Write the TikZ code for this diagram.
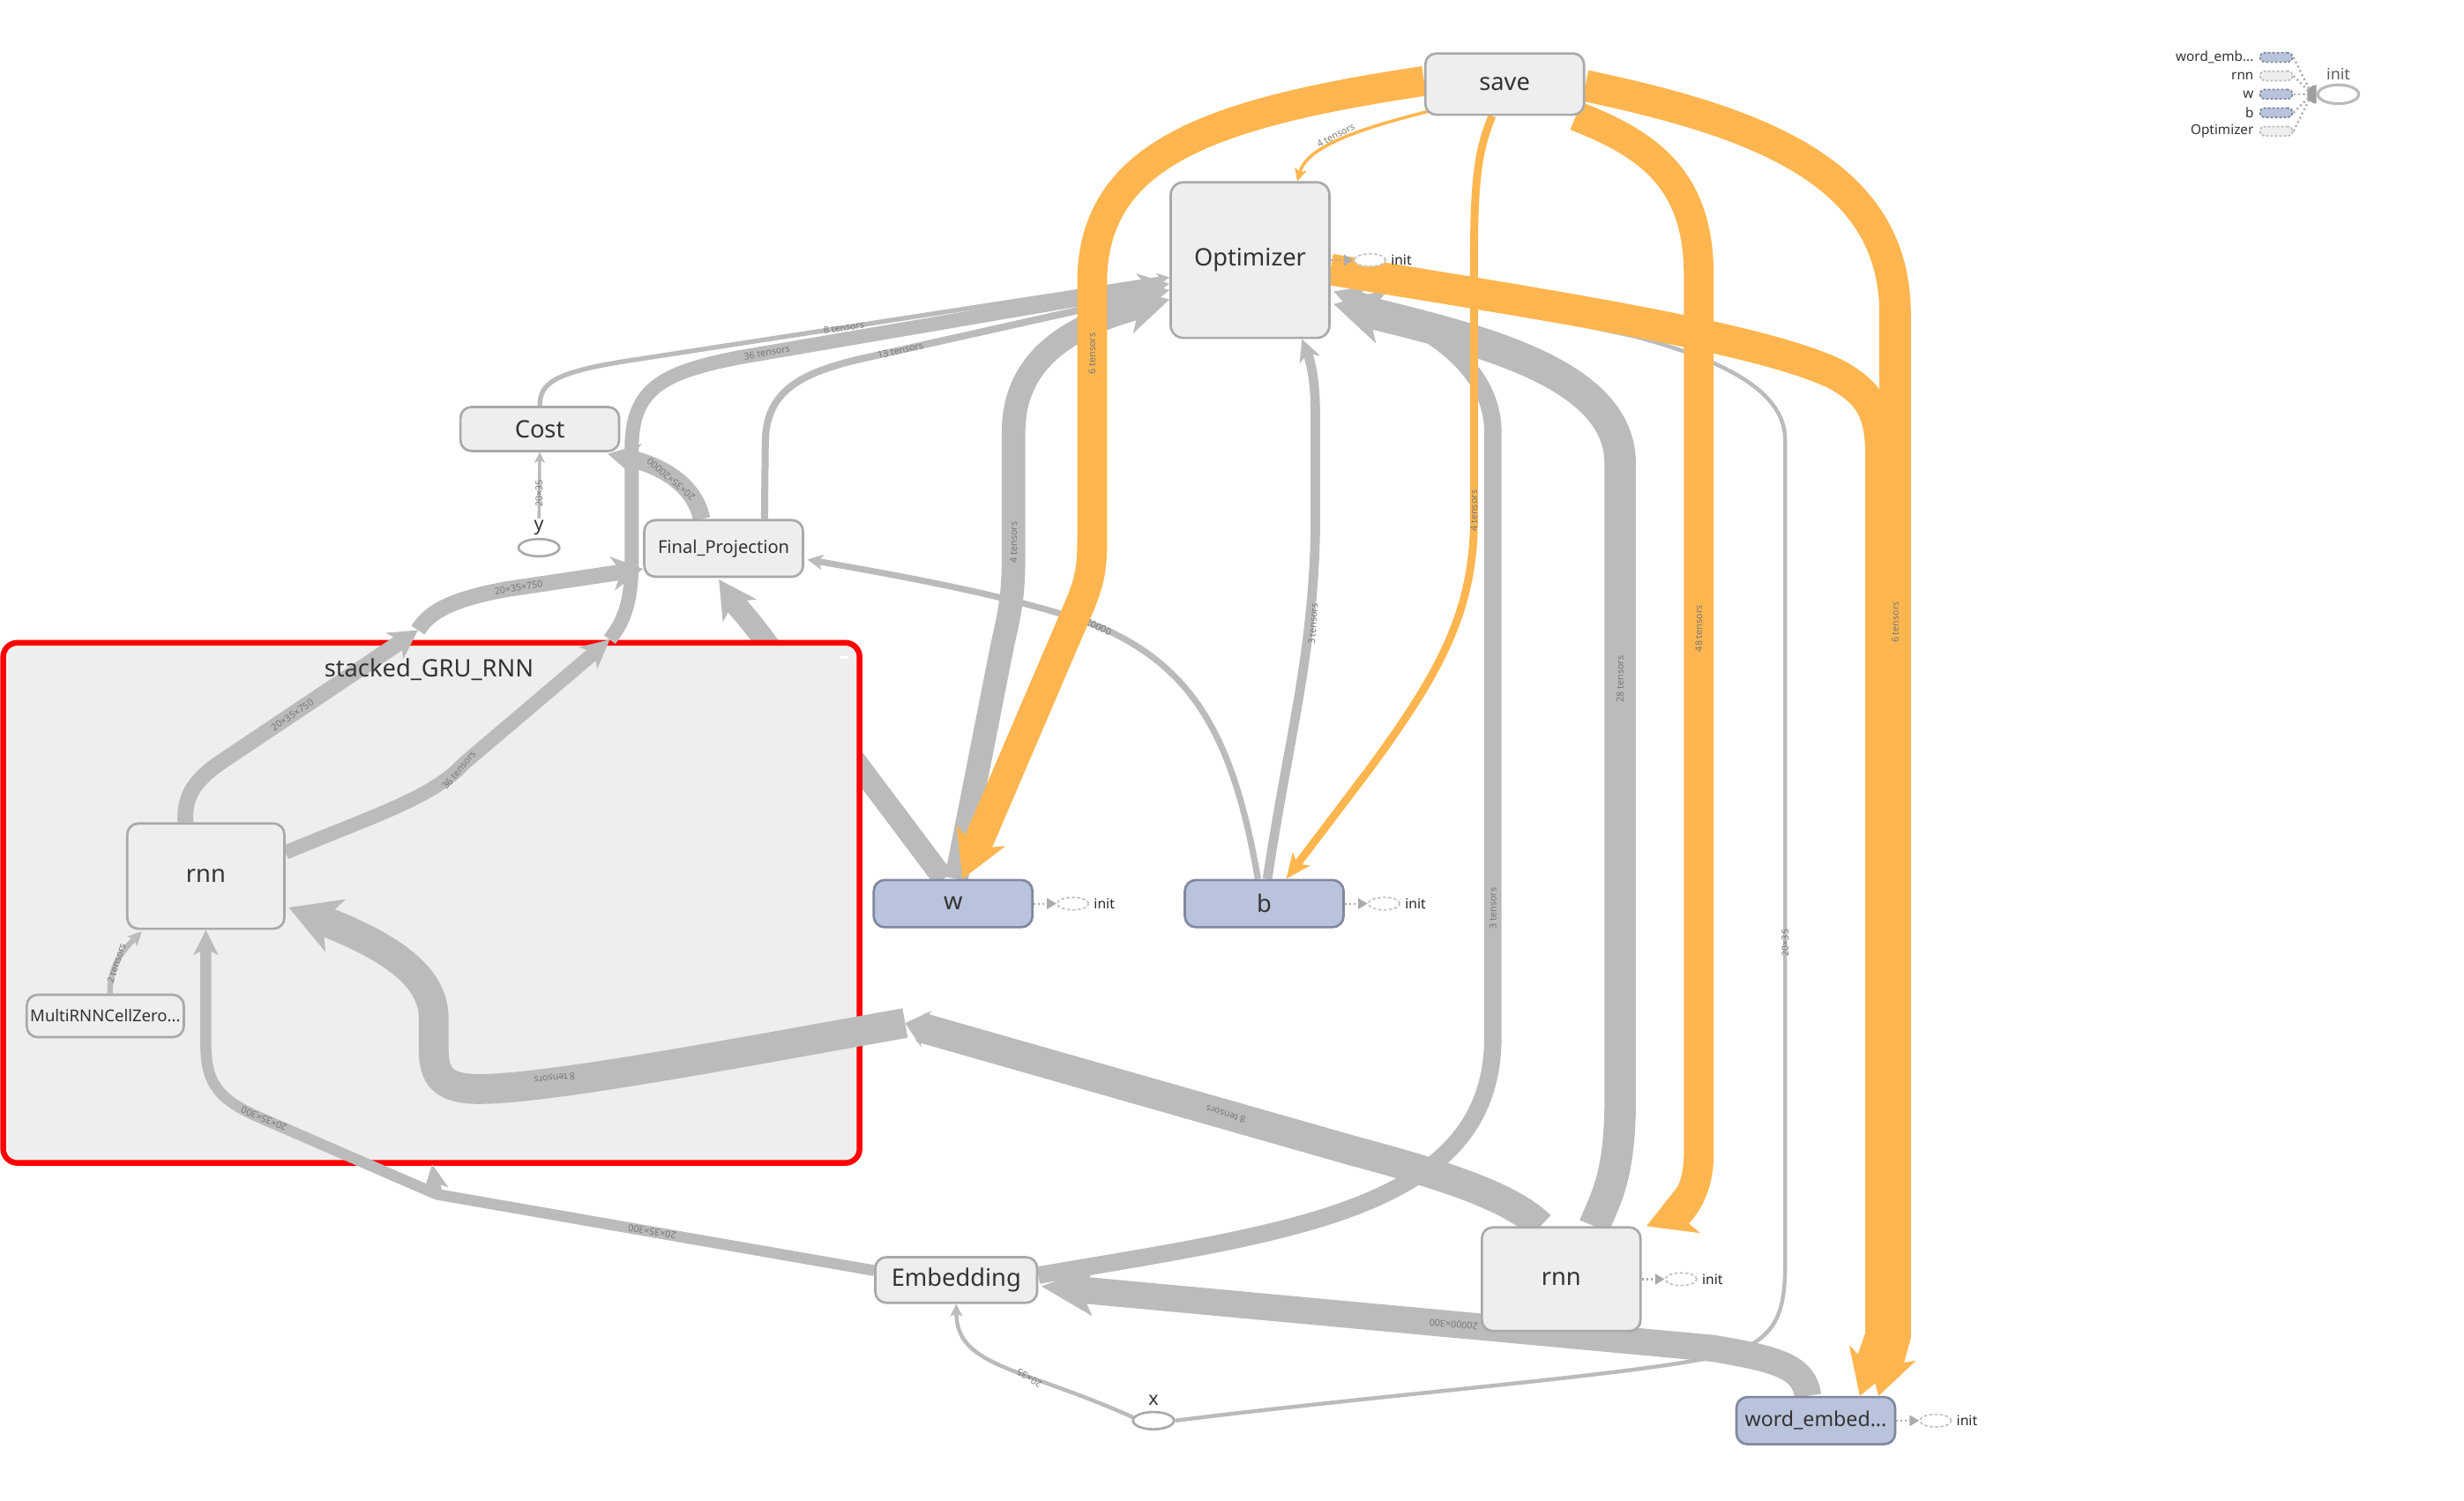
\documentclass[tikz,border=0pt]{standalone}
\usepackage{fontspec}
\setmainfont{Noto Sans}
\usetikzlibrary{arrows.meta,shapes.geometric,calc}
\definecolor{nfill}{HTML}{EEEEEE}
\definecolor{nbord}{HTML}{A9A9A9}
\definecolor{bfill}{HTML}{B9C4DC}
\definecolor{bbord}{HTML}{7F889E}
\definecolor{ntext}{HTML}{333333}
\definecolor{ecol}{HTML}{BBBBBB}
\definecolor{ocol}{HTML}{FDB64F}
\definecolor{ltext}{HTML}{777777}
\definecolor{ired}{HTML}{FF0000}
\definecolor{iellc}{HTML}{C4C4C4}
\definecolor{idotc}{HTML}{ABABAB}
\definecolor{legdc}{HTML}{B0B0B0}
\definecolor{legdisc}{HTML}{9E9E9E}
\definecolor{legc}{HTML}{BBBBBB}
\pgfdeclarelayer{back}
\pgfdeclarelayer{clus}
\pgfdeclarelayer{gedges}
\pgfdeclarelayer{oedges}
\pgfsetlayers{back,clus,gedges,oedges,main}
\newcommand{\initmark}[1]{%
  \node[iell] (#1ie) at ($(#1.east)+(25,0)$) {};
  \node[ilab] (#1il) at ($(#1ie.east)+(2.5,0)$) {init};
  \draw[idot] (#1.east) -- (#1ie.west);
}
\begin{document}
\begin{tikzpicture}[x=0.5pt,y=-0.5pt,
  gnode/.style={draw=nbord, fill=nfill, line width=0.75pt, rounded corners=3.5pt, text=ntext, inner sep=0pt, font=\fontsize{7.65}{9}\selectfont},
  bnode/.style={gnode, draw=bbord, fill=bfill},
  elab/.style={font=\fontsize{3}{3.5}\selectfont, text=ltext, inner sep=0.2pt},
  arw/.style n args={3}{-{Stealth[length=#1,width=#2,inset=#3,line width=0pt]}},
  gE/.style={draw=ecol},
  oE/.style={draw=ocol},
  iell/.style={ellipse, draw=iellc, fill=white, line width=0.5pt, dash pattern=on 1pt off 0.7pt, minimum width=10pt, minimum height=4pt, inner sep=0pt},
  ilab/.style={font=\fontsize{4.4}{5}\selectfont, text=black!85, inner sep=0pt, anchor=west},
  idot/.style={draw=idotc, line width=0.6pt, dash pattern=on 0.6pt off 0.8pt, -{Triangle[length=3pt,width=3.4pt]}},
  legbox/.style={rounded corners=1.5pt, line width=0.5pt, dash pattern=on 0.8pt off 0.6pt, minimum width=10.5pt, minimum height=3pt, inner sep=0pt},
  leglab/.style={font=\fontsize{4.3}{5}\selectfont, text=ntext, inner sep=0pt, anchor=east},
  legdot/.style={draw=legdc, line width=0.7pt, dash pattern=on 0.6pt off 0.9pt},
  smallel/.style={ellipse, draw=nbord, fill=white, line width=0.75pt, minimum width=13pt, minimum height=5.5pt, inner sep=0pt},
  smalllab/.style={font=\fontsize{6}{7}\selectfont, text=ntext, inner sep=0.5pt}
]
\useasboundingbox (0,0) rectangle (1568,955);

% ---------------- nodes ----------------
\node[gnode, minimum width=50.5pt, minimum height=19.5pt] (save) at (957.5,53.5) {save};
\node[gnode, minimum width=50.5pt, minimum height=49.5pt, rounded corners=4pt] (opt) at (795.5,165.5) {Optimizer};
\node[gnode, minimum width=50.5pt, minimum height=14pt] (cost) at (343.5,273) {Cost};
\node[gnode, minimum width=50.5pt, minimum height=18pt, font=\fontsize{5.65}{7}\selectfont] (fp) at (460.5,349) {Final\_Projection};
\node[gnode, minimum width=50pt, minimum height=33.5pt] (rnn1) at (131,557.5) {rnn};
\node[gnode, minimum width=50pt, minimum height=13.5pt, font=\fontsize{5.2}{6}\selectfont] (mrnn) at (67,646.5) {MultiRNNCellZero...};
\node[bnode, minimum width=50.5pt, minimum height=15pt] (w) at (606.5,575) {w};
\node[bnode, minimum width=50.5pt, minimum height=15pt] (b) at (804.5,575) {b};
\node[gnode, minimum width=51.5pt, minimum height=14.5pt] (emb) at (608.5,814.5) {Embedding};
\node[gnode, minimum width=50.5pt, minimum height=33pt] (rnn2) at (993.5,814) {rnn};
\node[bnode, minimum width=50.5pt, minimum height=15pt, font=\fontsize{6.5}{8}\selectfont] (we) at (1155.5,904) {word\_embed...};
\node[smallel] (yell) at (343,348.5) {};
\node[smalllab] (ylab) at (343,336) {y};
\node[smallel] (xell) at (734,904) {};
\node[smalllab] (xlab) at (734,891) {x};
\node[font=\fontsize{7.65}{9}\selectfont, text=ntext, inner sep=0pt] (grplab) at (273,426) {stacked\_GRU\_RNN};

\initmark{w}
\initmark{b}
\initmark{opt}
\initmark{rnn2}
\initmark{we}

% ---------------- legend ----------------
\node[legbox, fill=bfill, draw=bbord] (lb1) at (1448.5,36.5) {};
\node[legbox, fill=nfill, draw=legc] (lb2) at (1448.5,48.3) {};
\node[legbox, fill=bfill, draw=bbord] (lb3) at (1448.5,60) {};
\node[legbox, fill=bfill, draw=bbord] (lb4) at (1448.5,71.7) {};
\node[legbox, fill=nfill, draw=legc] (lb5) at (1448.5,83.5) {};
\node[leglab] (lt1) at ($(lb1.west)+(-3,0)$) {word\_emb...};
\node[leglab] (lt2) at ($(lb2.west)+(-3,0)$) {rnn};
\node[leglab] (lt3) at ($(lb3.west)+(-3,0)$) {w};
\node[leglab] (lt4) at ($(lb4.west)+(-3,0)$) {b};
\node[leglab] (lt5) at ($(lb5.west)+(-3,0)$) {Optimizer};
\node[ellipse, draw=legc, line width=0.9pt, minimum width=13pt, minimum height=6pt, inner sep=0pt] (linit) at (1488,60) {};
\node[font=\fontsize{5}{6}\selectfont, text=ntext!80, inner sep=0pt] (linitl) at (1488,47) {init};
\coordinate (lgc) at ($(linit.west)+(-3,0)$);
\foreach \i in {1,...,5} \draw[legdot] (lb\i.east) -- (lgc);
\fill[legdisc] ($(linit.west)+(0,-6)$) arc[start angle=90,end angle=270,radius=3pt] -- cycle;

% ---------------- back layer ----------------
\begin{pgfonlayer}{back}
\fill[white] (0,0) rectangle (1568,955);
\draw[gE, line width=7pt, arw={12pt}{13pt}{3.5pt}] ($(w.north)+(-6,0)$) -- (490,412) .. controls (477,394) and (469,386) .. ($(fp.south)+(-3,1)$);
\end{pgfonlayer}

% ---------------- cluster ----------------
\begin{pgfonlayer}{clus}
\node[draw=ired, fill=nfill, line width=1.8pt, rounded corners=4.5pt, minimum width=272.5pt, minimum height=165.5pt, inner sep=0pt] (grp) at (274.5,574.5) {};
\node[fill=white, minimum width=3pt, minimum height=0.7pt, inner sep=0pt] (grpbtn) at (537,418.5) {};
\end{pgfonlayer}

% ---------------- gray edges ----------------
\begin{pgfonlayer}{gedges}
\coordinate (bA) at (266,401);
\coordinate (bB) at (576,651);
\coordinate (bC) at (278,760);
\coordinate (bCt) at (275,741);
\coordinate (bD) at (388,407);

% Cost -> Optimizer
\draw[gE, line width=1.5pt, arw={4pt}{4pt}{1pt}] (cost.north) .. controls (343.5,244) and (352,237) .. (400,229.5) -- ($(opt.west)+(0,11)$);
\node[elab, rotate=9] (e1) at (537,208.5) {8 tensors};

% rnn -> Optimizer (36 tensors)
\draw[gE, line width=4.5pt, arw={9pt}{9pt}{2.5pt}] ($(rnn1.east)+(0,-15)$) .. controls (235,520) and (275,508) .. (295,486) -- (bD);
\draw[gE, line width=4.5pt, arw={10pt}{10pt}{3pt}] (bD) .. controls (398,394) and (402,382) .. (402,355) -- (402,285) .. controls (402,247) and (422,237) .. (470,227.5) -- ($(opt.west)+(0,15)$);
\node[elab, rotate=50] (e2) at (292,490) {36 tensors};
\node[elab, rotate=10] (e3) at (488,224.4) {36 tensors};

% Final_Projection -> Optimizer
\draw[gE, line width=2.25pt, arw={6pt}{6pt}{1.5pt}] ($(fp.north)+(26,0)$) -- (487,282) .. controls (487,250) and (508,238) .. (545,229) -- ($(opt.west)+(0,19)$);
\node[elab, rotate=12.5] (e4) at (573,222.8) {13 tensors};

% Final_Projection -> Cost
\draw[gE, line width=5.5pt, arw={10pt}{11pt}{3pt}] ($(fp.north)+(-14,0)$) .. controls (442,308) and (420,296) .. ($(cost.south east)+(-8,1)$);
\node[elab, rotate=140] (e5) at (427,305) {20×35×20000};

% y -> Cost
\draw[gE, line width=1pt, arw={3.5pt}{3.5pt}{1pt}] (ylab.north) -- (cost.south);
\node[elab, rotate=90] (e6) at (343,314) {20×35};

% rnn -> Final_Projection
\draw[gE, line width=5pt, arw={9pt}{10pt}{2.5pt}] ($(rnn1.north)+(-13,0)$) .. controls (117,505) and (125,495) .. (145,482) -- (bA);
\draw[gE, line width=5pt, arw={10pt}{11pt}{3pt}] (bA) .. controls (274,388) and (290,381) .. (322,375) -- ($(fp.west)+(0,13)$);
\node[elab, rotate=34] (e7) at (186,455) {20×35×750};
\node[elab, rotate=10] (e8) at (330,373.8) {20×35×750};

% b -> Final_Projection
\draw[gE, line width=2pt, arw={5pt}{5pt}{1.3pt}] ($(b.north)+(-4,0)$) .. controls (785,470) and (760,425) .. (700,399) .. controls (650,380) and (570,366) .. ($(fp.east)+(2,7)$);
\node[elab, rotate=-25] (e9) at (699,399) {20000};

% w -> Optimizer
\draw[gE, line width=7.5pt, arw={14pt}{15pt}{4pt}] ($(w.north)+(2,0)$) -- (638,410) .. controls (643,388) and (645,378) .. (645,352) -- (645,275) .. controls (645,228) and (682,207) .. ($(opt.west)+(0,25)$);
\node[elab, rotate=90] (e10) at (645,345) {4 tensors};

% b -> Optimizer
\draw[gE, line width=3pt, arw={7pt}{7pt}{2pt}] ($(b.north)+(2,0)$) .. controls (820,470) and (835,420) .. (837,340) -- (837,262) .. controls (837,242) and (834,230) .. ($(opt.south)+(33,0)$);
\node[elab, rotate=86] (e11) at (835.5,397) {3 tensors};

% Embedding -> Optimizer
\draw[gE, line width=5.5pt, arw={10pt}{11pt}{3pt}] ($(emb.east)+(0,-3)$) .. controls (820,784) and (950,770) .. (950,660) -- (950,275) .. controls (950,232) and (905,205) .. ($(opt.east)+(2,20)$);
\node[elab, rotate=90] (e12) at (950,578) {3 tensors};

% rnn (outer) -> Optimizer
\draw[gE, line width=10pt, arw={16pt}{18pt}{4.5pt}] ($(rnn2.north)+(21,0)$) .. controls (1022,762) and (1031,748) .. (1031,700) -- (1031,295) .. controls (1031,240) and (950,218) .. ($(opt.east)+(2,28)$);
\node[elab, rotate=90] (e13) at (1031,432) {28 tensors};

% rnn (outer) -> rnn (inner)
\draw[gE, line width=9.5pt, arw={7pt}{12pt}{2pt}] ($(rnn2.north west)+(38,0)$) .. controls (962,762) and (920,748) .. (860,732) -- (bB);
\draw[gE, line width=9.5pt, arw={16pt}{18pt}{4.5pt}] (bB) .. controls (480,668) and (350,693) .. (305,693) .. controls (282,693) and (276,685) .. (276,668) -- (276,648) .. controls (276,622) and (250,603) .. ($(rnn1.east)+(2,20)$);
\node[elab, rotate=162] (e14) at (780,709) {8 tensors};
\node[elab, rotate=186] (e15) at (353,686) {8 tensors};

% Embedding -> rnn (inner)
\draw[gE, line width=3.5pt, line join=round, arw={8pt}{8pt}{2pt}] ($(emb.west)+(0,-6)$) -- (bC) -- (bCt);
\draw[gE, line width=3.5pt, arw={8pt}{8pt}{2pt}] (bC) -- (165,711) .. controls (140,700) and (131,690) .. (131,665) -- (rnn1.south);
\node[elab, rotate=170] (e16) at (415,783.8) {20×35×300};
\node[elab, rotate=157] (e17) at (168,712) {20×35×300};

% x -> Optimizer
\draw[gE, line width=1.25pt, arw={4pt}{4pt}{1pt}] (xell.east) .. controls (900,885) and (1080,872) .. (1110,858) .. controls (1130,848) and (1136,835) .. (1136,805) -- (1136,280) .. controls (1136,250) and (1100,230) .. (1040,214) -- ($(opt.east)+(2,8)$);
\node[elab, rotate=90] (e18) at (1136,600) {20×35};

% word_embed -> Embedding
\draw[gE, line width=8.5pt, arw={17pt}{16pt}{4.5pt}] ($(we.north)+(-5,0)$) .. controls (1148,870) and (1132,865) .. (1090,858) -- ($(emb.east)+(2,4)$);
\node[elab, rotate=174.7] (e19) at (925,842.8) {20000×300};

% x -> Embedding
\draw[gE, line width=1.25pt, arw={4pt}{4pt}{1pt}] ($(xell.west)+(1,-2)$) .. controls (650,870) and (609,870) .. (emb.south);
\node[elab, rotate=150] (e20) at (655,877) {20×35};

% MultiRNNCellZero -> rnn
\draw[gE, line width=1.75pt, arw={4.5pt}{4.5pt}{1.2pt}] ($(mrnn.north)+(3,0)$) .. controls (70,615) and (77,606) .. ($(rnn1.south west)+(10,1)$);
\node[elab, rotate=72] (e21) at (74,613) {2 tensors};
\end{pgfonlayer}

% ---------------- orange edges ----------------
\begin{pgfonlayer}{oedges}
% save -> w
\draw[oE, line width=9.5pt, arw={15pt}{17pt}{4.5pt}] ($(save.west)+(0,-2)$) .. controls (770,72) and (695,98) .. (695,180) -- (695,345) .. controls (695,365) and (692,372) .. (688,383) -- ($(w.north)+(6,0)$);
\node[elab, rotate=90] (o1) at (695,225) {6 tensors};

% save -> Optimizer
\draw[oE, line width=1pt, arw={4pt}{4pt}{1pt}] ($(save.south west)+(3,-3)$) .. controls (865,82) and (832,93) .. ($(opt.north)+(30,0)$);
\node[elab, rotate=28] (o2) at (850,86) {4 tensors};

% save -> b
\draw[oE, line width=2.5pt, arw={8pt}{7pt}{2pt}] ($(save.south)+(-8,0)$) .. controls (941,95) and (938,112) .. (938,165) -- (938,330) .. controls (938,390) and (915,430) .. (871,490) -- ($(b.north)+(14,0)$);
\node[elab, rotate=90] (o3) at (938,325) {4 tensors};

% save -> rnn (outer)
\draw[oE, line width=9.5pt, arw={15pt}{17pt}{4.5pt}] ($(save.south east)+(-6,0)$) .. controls (1050,92) and (1081,115) .. (1081,175) -- (1081,735) .. controls (1081,760) and (1068,772) .. ($(rnn2.north east)+(3,0)$);
\node[elab, rotate=90] (o4) at (1081,400) {48 tensors};

% Optimizer -> word_embed
\draw[oE, line width=10pt, arw={14pt}{17pt}{4pt}] ($(opt.east)+(0,6)$) .. controls (990,195) and (1120,215) .. (1168,238) .. controls (1190,250) and (1197,262) .. (1197,290) -- (1197,850) -- ($(we.north)+(28,0)$);

% save -> word_embed
\draw[oE, line width=10pt, arw={14pt}{17pt}{4pt}] ($(save.east)+(0,1)$) .. controls (1120,78) and (1206,110) .. (1206,200) -- (1206,850) -- ($(we.north)+(40,0)$);
\node[elab, rotate=90] (o5) at (1206,396) {6 tensors};
\end{pgfonlayer}
\end{tikzpicture}
\end{document}
